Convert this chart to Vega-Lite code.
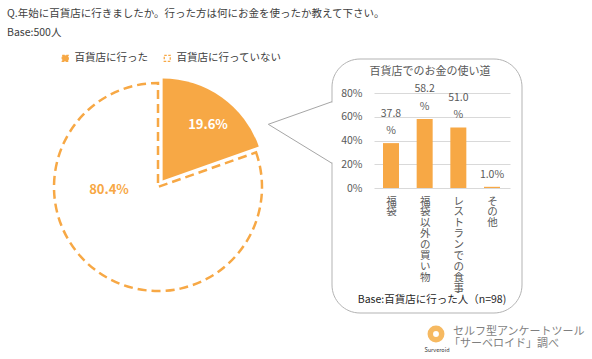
{
  "$schema": "https://vega.github.io/schema/vega-lite/v6.json",
  "width": 592,
  "height": 359,
  "padding": 0,
  "autosize": {"type": "none"},
  "background": "white",
  "config": {
    "view": {"stroke": null},
    "font": "Noto Sans CJK JP",
    "text": {"font": "Noto Sans CJK JP"},
    "axis": {"labelFont": "Noto Sans CJK JP"},
    "legend": {"labelFont": "Noto Sans CJK JP"}
  },
  "datasets": {
    "pie": [
      {"group": "百貨店に行った", "share": 0.196},
      {"group": "百貨店に行っていない", "share": 0.804}
    ],
    "uses": [
      {"cat": "福袋", "v": 0.378},
      {"cat": "福袋以外の買い物", "v": 0.582},
      {"cat": "レストランでの食事", "v": 0.51},
      {"cat": "その他", "v": 0.01}
    ],
    "notes": [
      {"id": "q", "text": "Q.年始に百貨店に行きましたか。行った方は何にお金を使ったか教えて下さい。"},
      {"id": "base", "text": "Base:500人"},
      {"id": "subtitle", "text": "百貨店でのお金の使い道"},
      {"id": "subbase", "text": "Base:百貨店に行った人（n=98)"},
      {"id": "logo1", "text": "セルフ型アンケートツール"},
      {"id": "logo2", "text": "「サーベロイド」調べ"},
      {"id": "logo3", "text": "Surveroid"}
    ]
  },
  "layer": [
    {
      "layer": [
        {
          "data": {"name": "pie"},
          "transform": [
            {"stack": "share", "groupby": [], "sort": [{"field": "group", "order": "ascending"}], "as": ["s0", "s1"]},
            {"filter": "datum.group === '百貨店に行っていない'"}
          ],
          "mark": {"type": "arc", "outerRadius": 104, "fill": "white", "stroke": "#F7A845", "strokeWidth": 2.5, "strokeDash": [9, 5]},
          "encoding": {
            "theta": {"field": "s0", "type": "quantitative", "scale": {"domain": [0, 1], "range": [0, 6.283185307]}},
            "theta2": {"field": "s1"},
            "x": {"datum": 158, "type": "quantitative", "scale": {"domain": [0, 592], "range": [0, 592], "nice": false, "zero": false}, "axis": null},
            "y": {"datum": 187, "type": "quantitative", "scale": {"domain": [0, 359], "range": [0, 359], "nice": false, "zero": false}, "axis": null}
          }
        },
        {
          "data": {"name": "pie"},
          "transform": [
            {"stack": "share", "groupby": [], "sort": [{"field": "group", "order": "ascending"}], "as": ["s0", "s1"]},
            {"filter": "datum.group === '百貨店に行った'"}
          ],
          "mark": {"type": "arc", "outerRadius": 102},
          "encoding": {
            "theta": {"field": "s0", "type": "quantitative"},
            "theta2": {"field": "s1"},
            "x": {"datum": 162.6, "type": "quantitative"},
            "y": {"datum": 180.4, "type": "quantitative"},
            "color": {
              "field": "group", "type": "nominal",
              "scale": {"domain": ["百貨店に行った", "百貨店に行っていない"], "range": ["#F7A845", "#FFFFFF"]},
              "legend": {
                "title": null, "orient": "none", "legendX": 60, "legendY": 53, "direction": "horizontal",
                "symbolType": "square", "symbolSize": 36, "labelFontSize": 10.5, "labelColor": "#404040",
                "columnPadding": 13, "labelOffset": 4,
                "encode": {"symbols": {"update": {"stroke": {"value": "#F7A845"}, "strokeWidth": {"value": 1.3}, "strokeDash": {"value": [2.5, 1.5]}}}}
              }
            }
          }
        },
        {
          "data": {"name": "pie"},
          "transform": [{"filter": "datum.group === '百貨店に行った'"}],
          "mark": {"type": "text", "fontSize": 13, "fontWeight": "bold", "color": "white", "align": "center", "baseline": "middle"},
          "encoding": {
            "text": {"field": "share", "type": "quantitative", "format": ".1%"},
            "x": {"datum": 208, "type": "quantitative"},
            "y": {"datum": 125, "type": "quantitative"}
          }
        },
        {
          "data": {"name": "pie"},
          "transform": [{"filter": "datum.group === '百貨店に行っていない'"}],
          "mark": {"type": "text", "fontSize": 13, "fontWeight": "bold", "color": "#F7A845", "align": "center", "baseline": "middle"},
          "encoding": {
            "text": {"field": "share", "type": "quantitative", "format": ".1%"},
            "x": {"datum": 109, "type": "quantitative"},
            "y": {"datum": 190, "type": "quantitative"}
          }
        },
        {
          "data": {"name": "notes"},
          "transform": [{"filter": "datum.id === 'subtitle'"}],
          "mark": {"type": "rect", "filled": false, "stroke": "#B3B3B3", "strokeWidth": 1, "cornerRadius": 28},
          "encoding": {
            "x": {"datum": 332, "type": "quantitative"},
            "x2": {"datum": 522},
            "y": {"datum": 59, "type": "quantitative"},
            "y2": {"datum": 313}
          }
        },
        {
          "data": {"name": "notes"},
          "transform": [{"filter": "datum.id === 'subtitle'"}],
          "mark": {"type": "rect", "fill": "white", "stroke": null},
          "encoding": {
            "x": {"datum": 330.5, "type": "quantitative"},
            "x2": {"datum": 333.5},
            "y": {"datum": 102.5, "type": "quantitative"},
            "y2": {"datum": 162.5}
          }
        },
        {
          "data": {"name": "notes"},
          "transform": [{"filter": "datum.id === 'subtitle'"}],
          "mark": {"type": "rule", "color": "#A6A6A6", "strokeWidth": 1},
          "encoding": {
            "x": {"datum": 268.3, "type": "quantitative"},
            "y": {"datum": 124.3, "type": "quantitative"},
            "x2": {"datum": 332},
            "y2": {"datum": 101.7}
          }
        },
        {
          "data": {"name": "notes"},
          "transform": [{"filter": "datum.id === 'subtitle'"}],
          "mark": {"type": "rule", "color": "#A6A6A6", "strokeWidth": 1},
          "encoding": {
            "x": {"datum": 268.3, "type": "quantitative"},
            "y": {"datum": 124.3, "type": "quantitative"},
            "x2": {"datum": 332},
            "y2": {"datum": 163.3}
          }
        },
        {
          "data": {"name": "notes"},
          "transform": [{"filter": "datum.id === 'q'"}],
          "mark": {"type": "text", "align": "left", "baseline": "middle", "fontSize": 10.5, "color": "#404040"},
          "encoding": {"text": {"field": "text"}, "x": {"datum": 7, "type": "quantitative"}, "y": {"datum": 14, "type": "quantitative"}}
        },
        {
          "data": {"name": "notes"},
          "transform": [{"filter": "datum.id === 'base'"}],
          "mark": {"type": "text", "align": "left", "baseline": "middle", "fontSize": 10.5, "color": "#404040"},
          "encoding": {"text": {"field": "text"}, "x": {"datum": 7, "type": "quantitative"}, "y": {"datum": 33, "type": "quantitative"}}
        },
        {
          "data": {"name": "notes"},
          "transform": [{"filter": "datum.id === 'subtitle'"}],
          "mark": {"type": "text", "align": "center", "baseline": "middle", "fontSize": 11, "color": "#595959"},
          "encoding": {"text": {"field": "text"}, "x": {"datum": 430, "type": "quantitative"}, "y": {"datum": 72, "type": "quantitative"}}
        },
        {
          "data": {"name": "notes"},
          "transform": [{"filter": "datum.id === 'subbase'"}],
          "mark": {"type": "text", "align": "center", "baseline": "middle", "fontSize": 10.5, "color": "#262626"},
          "encoding": {"text": {"field": "text"}, "x": {"datum": 432, "type": "quantitative"}, "y": {"datum": 300, "type": "quantitative"}}
        },
        {
          "data": {"name": "notes"},
          "transform": [{"filter": "datum.id === 'logo1'"}],
          "mark": {"type": "text", "align": "left", "baseline": "middle", "fontSize": 11, "color": "#7F7F7F"},
          "encoding": {"text": {"field": "text"}, "x": {"datum": 453, "type": "quantitative"}, "y": {"datum": 332, "type": "quantitative"}}
        },
        {
          "data": {"name": "notes"},
          "transform": [{"filter": "datum.id === 'logo2'"}],
          "mark": {"type": "text", "align": "left", "baseline": "middle", "fontSize": 11, "color": "#7F7F7F"},
          "encoding": {"text": {"field": "text"}, "x": {"datum": 449, "type": "quantitative"}, "y": {"datum": 344, "type": "quantitative"}}
        },
        {
          "data": {"name": "notes"},
          "transform": [{"filter": "datum.id === 'logo3'"}],
          "mark": {"type": "text", "align": "center", "baseline": "middle", "fontSize": 5.5, "color": "#333333"},
          "encoding": {"text": {"field": "text"}, "x": {"datum": 437, "type": "quantitative"}, "y": {"datum": 350, "type": "quantitative"}}
        },
        {
          "data": {"name": "notes"},
          "transform": [{"filter": "datum.id === 'logo3'"}],
          "mark": {"type": "point", "shape": "circle", "filled": false, "stroke": "#F39C1F", "strokeWidth": 5.5, "size": 130},
          "encoding": {"x": {"datum": 436, "type": "quantitative"}, "y": {"datum": 334, "type": "quantitative"}}
        }
      ]
    },
    {
      "data": {"name": "uses"},
      "layer": [
        {
          "mark": {"type": "bar", "width": 16, "color": "#F7A845"},
          "encoding": {
            "x": {
              "field": "cat", "type": "nominal", "sort": null,
              "scale": {"type": "point", "range": [391, 492], "padding": 0},
              "axis": {
                "orient": "bottom", "offset": -171, "domain": false, "ticks": false, "title": null,
                "labelAngle": 0, "labelExpr": "split(datum.label, '')", "labelBaseline": "top", "labelAlign": "center",
                "labelLineHeight": 10.9, "labelPadding": 8, "labelFontSize": 10.5, "labelColor": "#595959",
                "labelOverlap": false, "labelBound": false, "labelLimit": 0
              }
            },
            "y": {
              "field": "v", "type": "quantitative",
              "scale": {"domain": [0, 0.8], "range": [188, 93], "nice": false},
              "axis": {
                "orient": "left", "offset": -510, "values": [0, 0.2, 0.4, 0.6, 0.8], "format": ".0%",
                "tickSize": 136, "tickColor": "#D9D9D9", "tickWidth": 1, "domain": false, "grid": false,
                "labelPadding": 12, "labelFontSize": 10.5, "labelColor": "#595959", "title": null
              }
            }
          }
        },
        {
          "mark": {
            "type": "text", "align": "center", "baseline": "bottom", "dy": -24.5, "fontSize": 10.5, "color": "#595959", "lineHeight": 17.5,
            "text": {"expr": "datum.v >= 0.1 ? [format(datum.v * 100, '.1f'), '%'] : ['', format(datum.v, '.1%')]"}
          },
          "encoding": {
            "x": {"field": "cat", "type": "nominal", "sort": null},
            "y": {"field": "v", "type": "quantitative"}
          }
        }
      ]
    }
  ],
  "resolve": {"scale": {"x": "independent", "y": "independent"}, "axis": {"x": "independent", "y": "independent"}}
}
